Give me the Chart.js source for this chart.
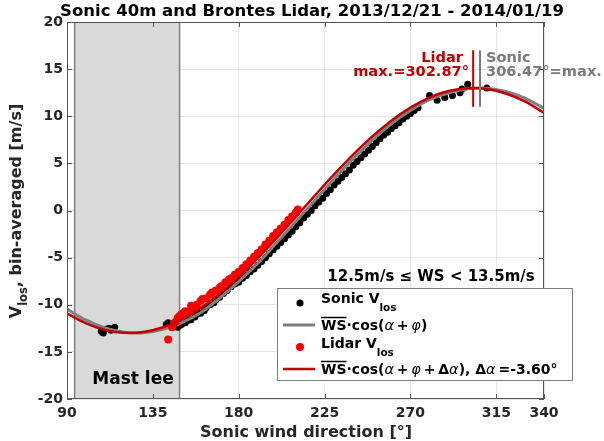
<!DOCTYPE html>
<html><head><meta charset="utf-8">
<script src="https://cdn.jsdelivr.net/npm/chart.js@4/dist/chart.umd.min.js"></script>
<style>html,body{margin:0;padding:0;background:#fff}#wrap{width:604px;height:441px}</style>
</head><body><div id="wrap"><canvas id="c" width="604" height="441"></canvas></div>
<script>
// ---- data ----
const xTickValues = [90, 135, 180, 225, 270, 315, 340];
const yTickValues = [-20, -15, -10, -5, 0, 5, 10, 15, 20];

// fitted curves, sampled every 10 degrees
const curveX = [90,100,110,120,130,140,150,160,170,180,190,200,210,220,230,240,250,260,270,280,290,300,310,320,330,340];
const sonicFitY = [-10.45,-11.64,-12.47,-12.92,-12.98,-12.64,-11.92,-10.84,-9.3,-7.55,-5.6,-3.4,-1.15,1.1,3.35,5.5,7.45,9.2,10.6,11.75,12.47,12.92,12.98,12.64,11.92,10.84];
const lidarFitY = [-10.92,-11.98,-12.67,-12.98,-12.90,-12.42,-11.57,-10.36,-8.84,-7.06,-5.05,-2.90,-0.65,1.61,3.83,5.93,7.85,9.53,10.92,11.98,12.67,12.98,12.90,12.42,11.57,10.36];

// bin-averaged sonic Vlos
const sonicDir = [108,109,110,112,113,115,142,143,148,149,150,152,153,155,157,158,160,162,163,165,167,168,170,172,174,176,178,180,182,184,186,188,190,192,194,196,198,200,202,204,206,208,210,212,214,216,218,220,222,224,226,228,230,232,234,236,238,240,242,244,246,248,250,252,254,256,258,260,262,264,266,268,270,272,274,280,284,288,292,296,297,300,310];
const sonicV = [-12.8,-13.0,-12.6,-12.5,-12.7,-12.4,-12.1,-11.9,-12.4,-12.2,-12.1,-11.9,-11.7,-11.6,-11.3,-11.0,-10.9,-10.6,-10.3,-10.0,-9.8,-9.5,-9.2,-8.8,-8.5,-8.1,-7.8,-7.6,-7.2,-6.9,-6.5,-6.2,-5.8,-5.4,-5.0,-4.6,-4.2,-3.8,-3.4,-3.0,-2.6,-2.2,-1.7,-1.3,-0.8,-0.4,0.0,0.5,0.9,1.3,1.8,2.2,2.7,3.1,3.5,3.9,4.3,4.8,5.2,5.6,6.0,6.4,6.8,7.2,7.6,8.0,8.3,8.7,9.0,9.3,9.7,10.0,10.3,10.6,10.9,12.2,11.7,12.0,12.2,12.5,12.9,13.4,13.0];

// bin-averaged lidar Vlos
const lidarDir = [143,145,146,147,148,149,150,151,152,153,155,156,158,160,161,163,165,166,168,170,171,173,175,176,178,180,182,184,186,188,190,192,194,196,198,200,202,204,206,208,210,211];
const lidarV = [-13.7,-12.4,-12.0,-11.8,-11.4,-11.2,-11.0,-10.9,-10.7,-10.8,-10.1,-10.4,-10.0,-9.6,-9.4,-9.3,-8.9,-8.7,-8.5,-8.2,-8.0,-7.6,-7.3,-7.2,-6.8,-6.5,-6.1,-5.7,-5.3,-4.9,-4.5,-4.1,-3.6,-3.2,-2.7,-2.3,-1.9,-1.5,-1.0,-0.6,-0.2,0.1];

const mastLee = [94, 149];
const lidarMax = 302.87;
const sonicMax = 306.47;
const maxLineSpan = [11, 17];

const titleText = 'Sonic 40m and Brontes Lidar, 2013/12/21 - 2014/01/19';
const xTitle = 'Sonic wind direction [°]';
const wsRangeText = '12.5m/s \u2264 WS < 13.5m/s';
const deltaAlphaText = '-3.60°';

// ---- build ----
const pts = (xs, ys) => xs.map((x, i) => ({x: x, y: ys[i]}));
const FONT = '"DejaVu Sans", sans-serif';
const RED = '#c00000', GRAY = '#7a7a7a', TXT = '#262626';

function runs(ctx, x, y, parts) {
  let cx = x;
  for (const p of parts) {
    ctx.font = p.f;
    ctx.fillText(p.t, cx, y + (p.dy || 0));
    const w = ctx.measureText(p.t).width;
    if (p.over) {
      ctx.save(); ctx.lineWidth = 1.5; ctx.strokeStyle = ctx.fillStyle;
      ctx.beginPath(); ctx.moveTo(cx, y - 8.5); ctx.lineTo(cx + w, y - 8.5); ctx.stroke(); ctx.restore();
    }
    cx += w;
  }
  return cx;
}

const deco = {
  id: 'deco',
  beforeDatasetsDraw(chart) {
    const {ctx, chartArea: a, scales: {x, y}} = chart;
    const x0 = x.getPixelForValue(mastLee[0]), x1 = x.getPixelForValue(mastLee[1]);
    ctx.save();
    ctx.fillStyle = '#d9d9d9';
    ctx.fillRect(x0, a.top, x1 - x0, a.bottom - a.top);
    ctx.strokeStyle = '#7f7f7f'; ctx.lineWidth = 1.5;
    ctx.beginPath();
    ctx.moveTo(x0, a.top); ctx.lineTo(x0, a.bottom);
    ctx.moveTo(x1, a.top); ctx.lineTo(x1, a.bottom);
    ctx.stroke();
    ctx.restore();
  },
  afterDatasetsDraw(chart) {
    const {ctx, chartArea: a, scales: {x, y}} = chart;
    ctx.save();
    // max lines
    const yA = y.getPixelForValue(maxLineSpan[0]), yB = y.getPixelForValue(maxLineSpan[1]);
    ctx.lineWidth = 2;
    ctx.strokeStyle = RED;
    ctx.beginPath(); ctx.moveTo(x.getPixelForValue(lidarMax), yA); ctx.lineTo(x.getPixelForValue(lidarMax), yB); ctx.stroke();
    ctx.strokeStyle = GRAY;
    ctx.beginPath(); ctx.moveTo(x.getPixelForValue(sonicMax), yA); ctx.lineTo(x.getPixelForValue(sonicMax), yB); ctx.stroke();

    // box
    ctx.strokeStyle = '#555'; ctx.lineWidth = 1;
    ctx.strokeRect(a.left + 0.5, a.top + 0.5, a.right - a.left - 1, a.bottom - a.top - 1);
    // inward ticks
    ctx.beginPath();
    for (const v of xTickValues) {
      const px = Math.round(x.getPixelForValue(v)) + 0.5;
      ctx.moveTo(px, a.bottom); ctx.lineTo(px, a.bottom - 5);
      ctx.moveTo(px, a.top); ctx.lineTo(px, a.top + 5);
    }
    for (const v of yTickValues) {
      const py = Math.round(y.getPixelForValue(v)) + 0.5;
      ctx.moveTo(a.left, py); ctx.lineTo(a.left + 5, py);
      ctx.moveTo(a.right, py); ctx.lineTo(a.right - 5, py);
    }
    ctx.stroke();

    // max labels
    ctx.font = 'bold 14.6px ' + FONT;
    ctx.textBaseline = 'middle';
    ctx.fillStyle = RED; ctx.textAlign = 'right';
    ctx.fillText('Lidar', 463, 58);
    ctx.fillText('max.=' + lidarMax.toFixed(2) + '°', 469, 72);
    ctx.fillStyle = GRAY; ctx.textAlign = 'left';
    ctx.fillText('Sonic', 486, 58);
    ctx.fillText(sonicMax.toFixed(2) + '°=max.', 486, 72);

    // mast lee
    ctx.fillStyle = '#000'; ctx.textAlign = 'center';
    ctx.font = 'bold 17px ' + FONT;
    ctx.fillText('Mast lee', 133, 380);

    // WS range text
    ctx.font = 'bold 15px ' + FONT;
    ctx.fillText(wsRangeText, 431, 277);

    // legend box
    ctx.fillStyle = '#fff';
    ctx.fillRect(277, 288, 296, 93);
    ctx.strokeStyle = '#7a7a7a'; ctx.lineWidth = 1;
    ctx.strokeRect(277.5, 288.5, 295, 92);
    ctx.textAlign = 'left'; ctx.fillStyle = '#000';
    const B = 'bold 14px ' + FONT, S = 'bold 10.5px ' + FONT, I = 'italic 14.5px ' + FONT;
    const sp = '\u2009';
    // entry 1
    ctx.beginPath(); ctx.arc(300, 303, 3.5, 0, Math.PI * 2); ctx.fill();
    runs(ctx, 321, 299, [{t: 'Sonic V', f: B}, {t: 'los', f: S, dy: 9}]);
    // entry 2
    ctx.strokeStyle = '#7f7f7f'; ctx.lineWidth = 3;
    ctx.beginPath(); ctx.moveTo(283, 325); ctx.lineTo(315, 325); ctx.stroke();
    runs(ctx, 321, 326, [{t: 'WS', f: B, over: true}, {t: '·cos(', f: B}, {t: 'α', f: I}, {t: sp + '+' + sp, f: B}, {t: 'φ', f: I}, {t: ')', f: B}]);
    // entry 3
    ctx.fillStyle = '#ff0000';
    ctx.beginPath(); ctx.arc(300, 347, 4, 0, Math.PI * 2); ctx.fill();
    ctx.fillStyle = '#000';
    runs(ctx, 321, 344, [{t: 'Lidar V', f: B}, {t: 'los', f: S, dy: 9}]);
    // entry 4
    ctx.strokeStyle = RED; ctx.lineWidth = 2.5;
    ctx.beginPath(); ctx.moveTo(283, 369); ctx.lineTo(315, 369); ctx.stroke();
    runs(ctx, 321, 370, [{t: 'WS', f: B, over: true}, {t: '·cos(', f: B}, {t: 'α', f: I}, {t: sp + '+' + sp, f: B}, {t: 'φ', f: I}, {t: sp + '+' + sp + 'Δ', f: B}, {t: 'α', f: I}, {t: '), Δ', f: B}, {t: 'α', f: I}, {t: sp + '=' + deltaAlphaText, f: B}]);

    // title
    ctx.fillStyle = '#000'; ctx.textAlign = 'center';
    ctx.font = 'bold 16.5px ' + FONT;
    ctx.fillText(titleText, 312, 12);
    // x title
    ctx.fillStyle = TXT;
    ctx.font = 'bold 16px ' + FONT;
    ctx.fillText(xTitle, 306, 433);
    // y title rotated
    ctx.translate(17, 211); ctx.rotate(-Math.PI / 2);
    const BT = 'bold 16px ' + FONT, ST = 'bold 11.5px ' + FONT;
    const parts = [{t: 'V', f: BT}, {t: 'los', f: ST, dy: 7}, {t: ', bin-averaged [m/s]', f: BT}];
    let tw = 0; for (const p of parts) { ctx.font = p.f; tw += ctx.measureText(p.t).width; }
    ctx.textAlign = 'left';
    runs(ctx, -tw / 2, 0, parts);
    ctx.restore();
  }
};

new Chart(document.getElementById('c'), {
  type: 'scatter',
  data: {
    datasets: [
      {label: 'Sonic Vlos', data: pts(sonicDir, sonicV), backgroundColor: '#000', borderColor: '#000', pointRadius: 3.5, pointBorderWidth: 0, order: 4},
      {label: 'WS cos(a+phi)', data: pts(curveX, sonicFitY), showLine: true, borderColor: '#7f7f7f', borderWidth: 3, pointRadius: 0, tension: 0.35, order: 3},
      {label: 'Lidar Vlos', data: pts(lidarDir, lidarV), backgroundColor: '#ff0000', borderColor: '#ff0000', pointRadius: 4, pointBorderWidth: 0, order: 2},
      {label: 'WS cos(a+phi+da)', data: pts(curveX, lidarFitY), showLine: true, borderColor: RED, borderWidth: 2.5, pointRadius: 0, tension: 0.35, order: 1}
    ]
  },
  options: {
    responsive: false, animation: false, devicePixelRatio: 1,
    layout: {padding: {left: 0, top: 22, right: 60, bottom: 0}},
    plugins: {legend: {display: false}, tooltip: {enabled: false}, title: {display: false}},
    scales: {
      x: {
        type: 'linear', min: 90, max: 340,
        afterBuildTicks: s => { s.ticks = xTickValues.map(v => ({value: v})); },
        afterFit: s => { s.height = 42; },
        grid: {color: '#e6e6e6', drawTicks: false},
        border: {display: false},
        ticks: {color: TXT, font: {family: FONT, size: 14, weight: 'bold'}, padding: 6, maxRotation: 0, autoSkip: false}
      },
      y: {
        type: 'linear', min: -20, max: 20,
        afterBuildTicks: s => { s.ticks = yTickValues.map(v => ({value: v})); },
        afterFit: s => { s.width = 67; },
        grid: {color: '#e6e6e6', drawTicks: false},
        border: {display: false},
        ticks: {color: TXT, font: {family: FONT, size: 14, weight: 'bold'}, padding: 4}
      }
    }
  },
  plugins: [deco]
});
</script></body></html>
